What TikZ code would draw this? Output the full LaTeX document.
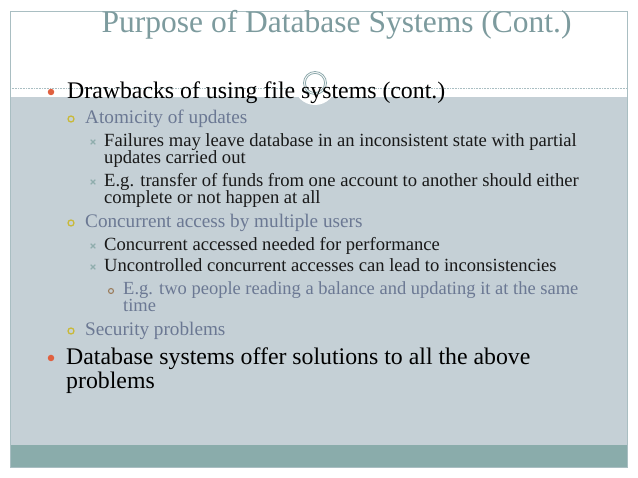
\documentclass[tikz,border=0pt]{standalone}
\usepackage{fontspec}
\setmainfont{Liberation Serif}
\usepackage{tikz}
\usetikzlibrary{shapes.misc}
\definecolor{panegray}{HTML}{C5D0D6}
\definecolor{bandteal}{HTML}{8AACAB}
\definecolor{framecol}{HTML}{A9BEC2}
\definecolor{titlecol}{HTML}{7D9B9E}
\definecolor{subcol}{HTML}{6B7893}
\definecolor{dotred}{HTML}{E0603F}
\definecolor{ringyel}{HTML}{C9B93A}
\definecolor{crosscol}{HTML}{8FADAD}
\definecolor{ringbrn}{HTML}{9C7F5F}
\definecolor{ringcol}{HTML}{8FAAAD}

\begin{document}
\begin{tikzpicture}[x=1pt,y=-1pt,
  txt/.style={anchor=base west,inner sep=0pt},
  lone/.style={txt,font=\fontsize{23.8}{23.8}\selectfont,text=black},
  ltwo/.style={txt,font=\fontsize{19.2}{19.2}\selectfont,text=subcol},
  lthree/.style={txt,font=\fontsize{18.6}{18.6}\selectfont,text=black!90},
  lfour/.style={txt,font=\fontsize{18.5}{18.5}\selectfont,text=subcol},
  dotone/.style={circle,fill=dotred,inner sep=0pt,minimum size=6.5pt},
  ringtwo/.style={circle,draw=ringyel,line width=1.3pt,inner sep=0pt,minimum size=6pt},
  crossthree/.style={cross out,draw=crosscol,line width=1.1pt,inner sep=0pt,minimum size=3.6pt},
  ringfour/.style={circle,draw=ringbrn,line width=1.1pt,inner sep=0pt,minimum size=5pt}]
\useasboundingbox (0,0) rectangle (638,478);
\fill[white](0,0) rectangle (638,478);
\fill[panegray](10,97) rectangle (627,445);
\fill[bandteal](10,445) rectangle (627,467);
\draw[framecol,line width=0.8pt](10,11) rectangle (627,467);
\draw[framecol,line width=0.6pt,densely dotted](10,88)--(627,88);
\fill[white](315,84) circle(21);
\draw[ringcol,line width=0.8pt](315,83) circle(11.5);
\draw[ringcol,line width=0.8pt](315,83) circle(9.6);

\node[txt,font=\fontsize{31.5}{31.5}\selectfont,text=titlecol] (title) at (101.5,32.3) {Purpose of Database Systems (Cont.)};

\node[dotone] (b1) at (51,92) {};
\node[lone] (drawbacks) at (67,99) {Drawbacks of using file systems (cont.)};
\node[ringtwo] (b2) at (71,119) {};
\node[ltwo] (atomicity) at (85,124) {Atomicity of updates};
\node[crossthree] (b3) at (93,142) {};
\node[lthree] (failures) at (104,147) {Failures may leave database in an inconsistent state with partial};
\node[lthree] (failuresb) at (104,164) {updates carried out};
\node[crossthree] (b4) at (93,182) {};
\node[lthree] (transfer) at (104,187) {E.g. transfer of funds from one account to another should either};
\node[lthree] (transferb) at (104,204) {complete or not happen at all};
\node[ringtwo] (b5) at (71,223) {};
\node[ltwo] (concurrent) at (85,228) {Concurrent access by multiple users};
\node[crossthree] (b6) at (93,246) {};
\node[lthree] (needed) at (104,251) {Concurrent accessed needed for performance};
\node[crossthree] (b7) at (93,267) {};
\node[lthree] (uncontrolled) at (104,272) {Uncontrolled concurrent accesses can lead to inconsistencies};
\node[ringfour] (b8) at (111,291) {};
\node[lfour] (balance) at (123,295) {E.g. two people reading a balance and updating it at the same};
\node[lfour] (balanceb) at (123,312) {time};
\node[ringtwo] (b9) at (71,331) {};
\node[ltwo] (security) at (85,336) {Security problems};
\node[dotone] (b10) at (51,358) {};
\node[lone] (offer) at (66,365) {Database systems offer solutions to all the above};
\node[lone] (offerb) at (66,389) {problems};
\end{tikzpicture}
\end{document}
